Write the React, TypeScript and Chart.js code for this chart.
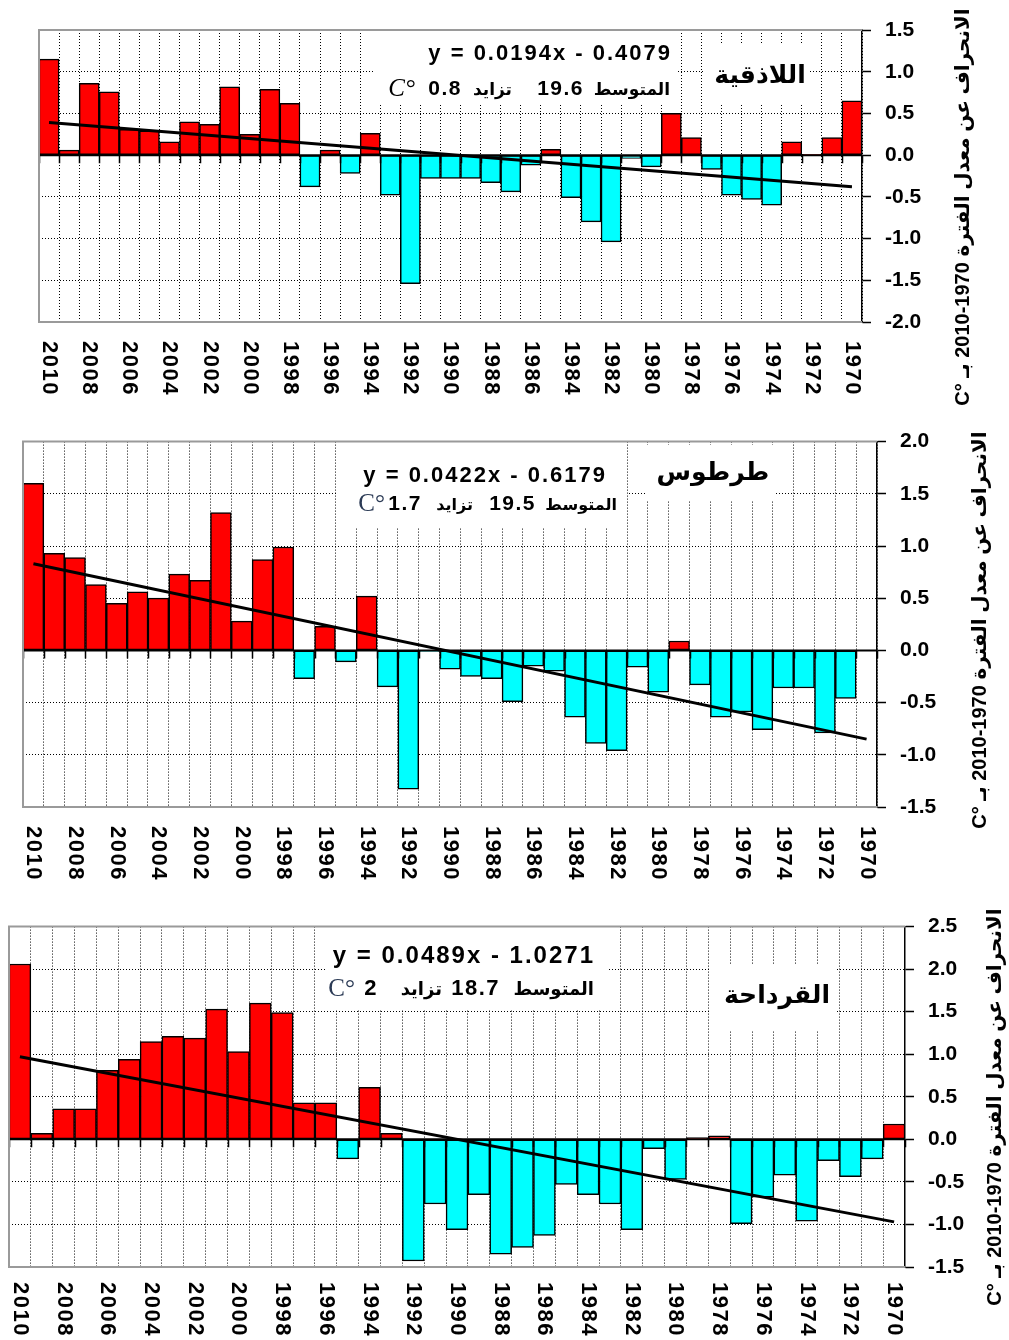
import { useEffect, useRef } from 'react';
import { Chart, registerables } from 'chart.js';

Chart.register(...registerables);

// ---------------- DATA ----------------
const years = [
  '2010', '2009', '2008', '2007', '2006', '2005', '2004', '2003', '2002', '2001',
  '2000', '1999', '1998', '1997', '1996', '1995', '1994', '1993', '1992', '1991',
  '1990', '1989', '1988', '1987', '1986', '1985', '1984', '1983', '1982', '1981',
  '1980', '1979', '1978', '1977', '1976', '1975', '1974', '1973', '1972', '1971',
  '1970',
];

const latakiaValues = [
  1.15, 0.06, 0.86, 0.76, 0.31, 0.29, 0.16, 0.40, 0.37, 0.82,
  0.25, 0.79, 0.62, -0.38, 0.06, -0.22, 0.26, -0.48, -1.54, -0.28,
  -0.28, -0.28, -0.33, -0.44, -0.12, 0.07, -0.51, -0.80, -1.04, -0.04,
  -0.14, 0.50, 0.21, -0.17, -0.48, -0.53, -0.60, 0.16, 0.01, 0.21,
  0.65,
];

const tartusValues = [
  1.60, 0.93, 0.89, 0.63, 0.45, 0.56, 0.50, 0.73, 0.67, 1.32,
  0.28, 0.87, 0.99, -0.27, 0.23, -0.11, 0.52, -0.35, -1.33, -0.01,
  -0.18, -0.25, -0.27, -0.49, -0.15, -0.20, -0.64, -0.89, -0.96, -0.16,
  -0.40, 0.09, -0.33, -0.64, -0.59, -0.76, -0.36, -0.36, -0.79, -0.46,
  0.00,
];

const qardahaValues = [
  2.06, 0.07, 0.36, 0.36, 0.81, 0.94, 1.15, 1.21, 1.19, 1.53,
  1.03, 1.60, 1.49, 0.43, 0.43, -0.23, 0.61, 0.07, -1.43, -0.76,
  -1.06, -0.65, -1.35, -1.27, -1.13, -0.53, -0.65, -0.76, -1.06, -0.11,
  -0.47, 0.02, 0.04, -0.99, -0.68, -0.42, -0.96, -0.25, -0.44, -0.23,
  0.18,
];

// trend line end values (2010, 1970)
const latakiaTrend = [0.39, -0.38];
const tartusTrend = [0.83, -0.85];
const qardahaTrend = [0.97, -0.97];

const stationNames = ['اللاذقية', 'طرطوس', 'القرداحة'];
const equations = ['y = 0.0194x - 0.4079', 'y = 0.0422x - 0.6179', 'y = 0.0489x - 1.0271'];
const meanTemps = ['19.6', '19.5', '18.7'];
const increases = ['0.8', '1.7', '2'];
const yMins = [-2.0, -1.5, -1.5];
const yMaxs = [1.5, 2.0, 2.5];
const yStep = 0.5;
const meanLabel = 'المتوسط';
const increaseLabel = 'تزايد';
const unitLabel = 'C°';
// logical order; rendered right-to-left it shows "2010-1970" as in the source
const yTitle = 'الانحراف عن معدل الفترة 1970-2010 بـ °C';

const valueSets = [latakiaValues, tartusValues, qardahaValues];
const trendSets = [latakiaTrend, tartusTrend, qardahaTrend];

// ---------------- STYLE / LAYOUT ----------------
const W = 1009;
const RED = '#FF0000';
const CYAN = '#00FFFF';
const SANS = "'Liberation Sans', Arial, 'DejaVu Sans', sans-serif";
const ARAB = "'DejaVu Sans', sans-serif";
const SERIF = "'Liberation Serif', 'DejaVu Serif', serif";

type Layout = {
  top: number; height: number;
  area: { left: number; right: number; top: number; bottom: number };
  labelTop: number;
  titleX: number; titleY: number;
  box: [number, number, number, number];
  nameBox: [number, number, number, number];
  name: [number, number, number];
  eq: [number, number, number];
  line2Y: number;
  parts: [number, number, number, number, number];
  italicUnit: boolean;
  numSize: number;
  arabSize: number;
};

// all coordinates in page pixels
const layouts: Layout[] = [
  {
    top: 0, height: 415,
    area: { left: 39, right: 862, top: 30, bottom: 322 },
    labelTop: 341,
    titleX: 963, titleY: 207,
    box: [373, 33, 304, 72],
    nameBox: [703, 45, 105, 60],
    name: [760, 76, 25],
    eq: [672, 60, 22],
    line2Y: 95,
    parts: [670, 584, 512, 462, 415],
    italicUnit: true,
    numSize: 21,
    arabSize: 17,
  },
  {
    top: 415, height: 485,
    area: { left: 23, right: 877, top: 432, bottom: 807 },
    labelTop: 826,
    titleX: 980, titleY: 630,
    box: [337, 442, 290, 85],
    nameBox: [645, 445, 130, 55],
    name: [713, 473, 25],
    eq: [607, 482, 22],
    line2Y: 510,
    parts: [617, 536, 473, 422, 385],
    italicUnit: false,
    numSize: 21,
    arabSize: 16,
  },
  {
    top: 900, height: 440,
    area: { left: 9, right: 905, top: 917, bottom: 1267 },
    labelTop: 1282,
    titleX: 995, titleY: 1107,
    box: [325, 925, 283, 85],
    nameBox: [710, 965, 125, 65],
    name: [777, 996, 25],
    eq: [595, 963, 24],
    line2Y: 995,
    parts: [594, 500, 442, 378, 355],
    italicUnit: false,
    numSize: 22,
    arabSize: 18,
  },
];

function makePlugin(idx: number) {
  const L = layouts[idx];
  const oy = L.top;
  return {
    id: 'panelDecor' + idx,
    beforeDatasetsDraw(chart: any) {
      const ctx = chart.ctx as CanvasRenderingContext2D;
      ctx.save();
      ctx.fillStyle = '#ffffff';
      ctx.fillRect(L.box[0], L.box[1] - oy, L.box[2], L.box[3]);
      ctx.fillRect(L.nameBox[0], L.nameBox[1] - oy, L.nameBox[2], L.nameBox[3]);
      ctx.restore();
    },
    afterDatasetsDraw(chart: any) {
      const ctx = chart.ctx as CanvasRenderingContext2D;
      const a = chart.chartArea;
      const xs = chart.scales.x;
      const ys = chart.scales.y;
      const y0 = ys.getPixelForValue(0);
      const bw = xs.getPixelForValue(1) - xs.getPixelForValue(0);
      const x0 = xs.getPixelForValue(0) - bw / 2;
      ctx.save();
      ctx.strokeStyle = '#000';
      ctx.lineWidth = 2;
      ctx.beginPath();
      ctx.moveTo(a.left, y0);
      ctx.lineTo(a.right, y0);
      ctx.stroke();
      ctx.lineWidth = 1.5;
      ctx.beginPath();
      for (let i = 0; i <= years.length; i++) {
        const x = Math.round(x0 + i * bw) + 0.5;
        ctx.moveTo(x, y0);
        ctx.lineTo(x, y0 + 8);
      }
      ctx.stroke();
      ctx.strokeStyle = '#9a9a9a';
      ctx.lineWidth = 2;
      ctx.beginPath();
      ctx.moveTo(a.right, a.top);
      ctx.lineTo(a.left, a.top);
      ctx.lineTo(a.left, a.bottom);
      ctx.lineTo(a.right, a.bottom);
      ctx.stroke();
      ctx.restore();
    },
    afterDraw(chart: any) {
      const ctx = chart.ctx as CanvasRenderingContext2D;
      const c = ctx as any;
      const xs = chart.scales.x;
      ctx.save();
      ctx.fillStyle = '#000';
      // equation
      ctx.textAlign = 'right';
      ctx.textBaseline = 'alphabetic';
      c.letterSpacing = '2px';
      ctx.font = `bold ${L.eq[2]}px ${SANS}`;
      ctx.fillText(equations[idx], L.eq[0], L.eq[1] - oy);
      // second line
      const by = L.line2Y - oy;
      c.letterSpacing = '0px';
      c.direction = 'rtl';
      ctx.font = `bold ${L.arabSize}px ${ARAB}`;
      ctx.fillText(meanLabel, L.parts[0], by);
      ctx.fillText(increaseLabel, L.parts[2], by);
      c.direction = 'ltr';
      c.letterSpacing = '1.5px';
      ctx.font = `bold ${L.numSize}px ${SANS}`;
      ctx.fillText(meanTemps[idx], L.parts[1], by);
      ctx.fillText(increases[idx], L.parts[3], by);
      c.letterSpacing = '0px';
      ctx.font = `${L.italicUnit ? 'italic ' : ''}25px ${SERIF}`;
      ctx.fillStyle = idx === 0 ? '#000' : '#2b3a55';
      ctx.fillText(unitLabel, L.parts[4], by + 1);
      ctx.fillStyle = '#000';
      // station name
      c.direction = 'rtl';
      ctx.textAlign = 'center';
      ctx.textBaseline = 'middle';
      ctx.font = `bold ${L.name[2]}px ${ARAB}`;
      ctx.fillText(stationNames[idx], L.name[0], L.name[1] - oy);
      // x labels rotated clockwise
      c.direction = 'ltr';
      c.letterSpacing = '1.5px';
      ctx.font = `bold 22px ${SANS}`;
      ctx.textAlign = 'left';
      ctx.textBaseline = 'middle';
      for (let k = 0; k < years.length; k += 2) {
        const x = xs.getPixelForValue(k);
        ctx.save();
        ctx.translate(x, L.labelTop - oy);
        ctx.rotate(Math.PI / 2);
        ctx.fillText(years[k], 0, 0);
        ctx.restore();
      }
      c.letterSpacing = '0px';
      // y title rotated counter-clockwise
      ctx.save();
      ctx.translate(L.titleX, L.titleY - oy);
      ctx.rotate(-Math.PI / 2);
      c.direction = 'rtl';
      ctx.textAlign = 'center';
      ctx.textBaseline = 'middle';
      ctx.font = `bold 20px ${SANS}`;
      ctx.fillText(yTitle, 0, 0);
      ctx.restore();
      ctx.restore();
    },
  };
}

function Panel({ idx }: { idx: number }) {
  const ref = useRef<HTMLCanvasElement | null>(null);
  useEffect(() => {
    const L = layouts[idx];
    const values = valueSets[idx];
    const trend = trendSets[idx];
    const a = L.area;
    const chart = new Chart(ref.current as HTMLCanvasElement, {
      type: 'bar',
      data: {
        labels: years,
        datasets: [
          {
            type: 'line',
            data: [
              { x: years[0], y: trend[0] },
              { x: years[years.length - 1], y: trend[1] },
            ] as any,
            borderColor: '#000',
            borderWidth: 3,
            pointRadius: 0,
            fill: false,
            tension: 0,
            order: 0,
          } as any,
          {
            type: 'bar',
            data: values,
            backgroundColor: values.map((v) => (v >= 0 ? RED : CYAN)),
            borderColor: '#000',
            borderWidth: 1.5,
            borderSkipped: false,
            barPercentage: 1,
            categoryPercentage: 1,
            order: 1,
          } as any,
        ],
      },
      options: {
        responsive: false,
        animation: false,
        devicePixelRatio: 1,
        layout: {
          padding: {
            left: a.left,
            top: a.top - L.top,
            right: 0,
            bottom: L.top + L.height - a.bottom,
          },
        },
        plugins: {
          legend: { display: false },
          tooltip: { enabled: false },
          title: { display: false },
        },
        scales: {
          x: {
            type: 'category',
            offset: true,
            ticks: { display: false },
            grid: { display: true, offset: true, color: '#000', lineWidth: 1, drawTicks: false },
            border: { display: false, dash: [1, 2] },
            afterFit: (s: any) => { s.height = 0; },
          },
          y: {
            position: 'right',
            min: yMins[idx],
            max: yMaxs[idx],
            ticks: {
              stepSize: yStep,
              color: '#000',
              padding: 14,
              font: { family: SANS, size: 21, weight: 'bold' },
              callback: (v: any) => Number(v).toFixed(1),
            },
            grid: {
              color: '#000',
              lineWidth: 1,
              drawTicks: true,
              tickLength: 9,
              tickColor: '#000',
              tickWidth: 1.5,
              tickBorderDash: [],
            },
            border: { display: true, color: '#000', width: 1.5, dash: [1, 2] },
            afterFit: (s: any) => { s.width = W - a.right; },
          },
        },
      } as any,
      plugins: [makePlugin(idx)],
    });
    return () => chart.destroy();
  }, [idx]);
  const L = layouts[idx];
  return (
    <canvas
      ref={ref}
      width={W}
      height={L.height}
      style={{ position: 'absolute', left: 0, top: L.top, width: W, height: L.height }}
    />
  );
}

export default function App() {
  return (
    <div style={{ position: 'absolute', left: 0, top: 0, width: W, height: 1340, background: '#fff' }}>
      <Panel idx={0} />
      <Panel idx={1} />
      <Panel idx={2} />
    </div>
  );
}
